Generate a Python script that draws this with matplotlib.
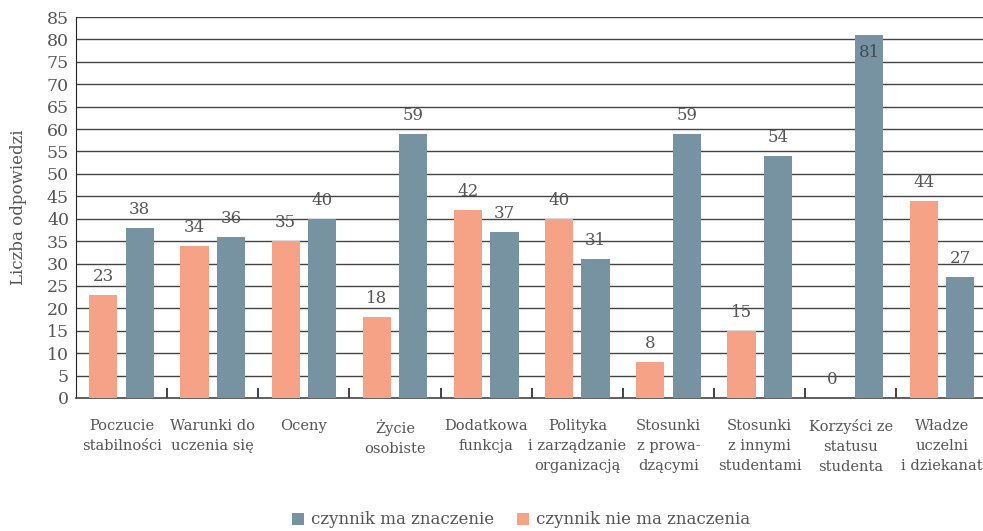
import matplotlib
matplotlib.use("Agg")
import matplotlib.pyplot as plt
import numpy as np

categories = ["Poczucie\nstabilności", "Warunki do\nuczenia się", "Oceny", "Życie\nosobiste",
              "Dodatkowa\nfunkcja", "Polityka\ni zarządzanie\norganizacją", "Stosunki\nz prowa-\ndzącymi",
              "Stosunki\nz innymi\nstudentami", "Korzyści ze\nstatusu\nstudenta", "Władze\nuczelni\ni dziekanat"]
nie_ma = [23, 34, 35, 18, 42, 40, 8, 15, 0, 44]
ma = [38, 36, 40, 59, 37, 31, 59, 54, 81, 27]
yticks = list(range(0, 90, 5))

c_orange = "#F6A286"
c_blue = "#7793A1"
c_text = "#555555"

plt.rcParams['font.family'] = ['DejaVu Serif']
fig = plt.figure(figsize=(9.83, 5.31), dpi=100)
ax = fig.add_axes([76/983, 1 - 398/531, (983-76)/983, (398-17)/531])

x = np.arange(len(categories))
w = 0.31
off = 0.2
ax.bar(x - off, nie_ma, w, color=c_orange, zorder=3, label="czynnik nie ma znaczenia")
ax.bar(x + off, ma, w, color=c_blue, zorder=3, label="czynnik ma znaczenie")

for xi, v in zip(x, nie_ma):
    ax.text(xi - off, v + 2.2, str(v), ha="center", va="bottom", fontsize=12, color=c_text, zorder=4)
for xi, v in zip(x, ma):
    if v > 78:
        ax.text(xi + off, v - 2.0, str(v), ha="center", va="top", fontsize=12, color="#3d4a52", zorder=4)
    else:
        ax.text(xi + off, v + 2.2, str(v), ha="center", va="bottom", fontsize=12, color=c_text, zorder=4)

ax.set_xlim(-0.5, 9.45)
ax.set_ylim(0, 85)
ax.set_yticks(yticks)
ax.tick_params(axis="y", length=0, labelsize=12.5, labelcolor=c_text, pad=5)
for t in yticks[1:]:
    ax.axhline(t, color="#444444", lw=1.0, zorder=1)

ax.set_xticks(x)
ax.set_xticklabels(categories, fontsize=10.5, color=c_text, linespacing=1.55, va="top")
ax.tick_params(axis="x", length=0, pad=15)
ax.set_xticks(np.arange(0.5, 9.5, 1), minor=True)
ax.tick_params(axis="x", which="minor", direction="in", length=7, color="#222222", width=1.2)

for s in ["top", "right"]:
    ax.spines[s].set_visible(False)
ax.spines["left"].set_color("#222222")
ax.spines["bottom"].set_color("#444444")
ax.spines["bottom"].set_linewidth(1.2)

ax.set_ylabel("Liczba odpowiedzi", fontsize=12, color=c_text, labelpad=14)

h, l = ax.get_legend_handles_labels()
fig.legend([h[1], h[0]], [l[1], l[0]], loc="center", bbox_to_anchor=(521/983, 1 - 520/531),
           ncol=2, frameon=False, fontsize=12, handlelength=0.7, handleheight=0.7,
           handletextpad=0.4, columnspacing=1.4, labelcolor=c_text)

fig.savefig("out.png", dpi=100)
